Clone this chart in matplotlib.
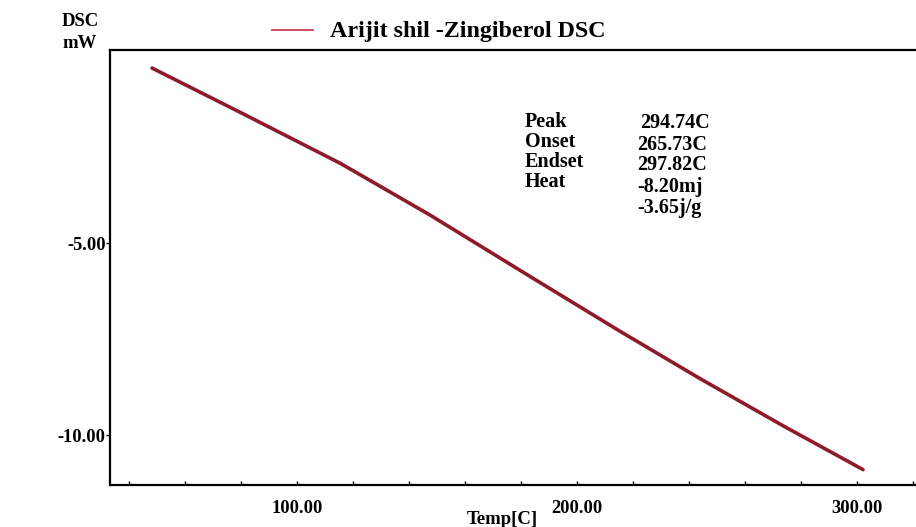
import matplotlib
matplotlib.use("Agg")
import matplotlib.pyplot as plt
from matplotlib.ticker import MultipleLocator, FixedLocator

temp = [48.2, 79.6, 115.4, 147.5, 182.1, 215.4, 243.9, 273.6, 302.1]
dsc = [-0.44, -1.59, -2.92, -4.27, -5.82, -7.30, -8.53, -9.76, -10.90]
xticks = [100, 200, 300]
xticklabels = ["100.00", "200.00", "300.00"]
yticks = [-5, -10]
yticklabels = ["-5.00", "-10.00"]
ann_labels = ["Peak", "Onset", "Endset", "Heat"]
ann_values = ["294.74C", "265.73C", "297.82C", "-8.20mj", "-3.65j/g"]
series_name = "Arijit shil -Zingiberol DSC"

plt.rcParams['font.family'] = ['Liberation Serif', 'DejaVu Serif']
plt.rcParams['font.weight'] = 'bold'

fig = plt.figure(figsize=(9.16, 5.27), dpi=100)
ax = fig.add_axes([110/916, 1-485/527, 1-110/916, (485-50)/527])
line_color = '#8e1b2b'
ax.plot(temp, dsc, color=line_color, lw=2.6, solid_capstyle='round', solid_joinstyle='round')
ax.set_xlim(33.2, 321)
ax.set_ylim(-11.3, 0.03)

for s in ['left', 'top', 'bottom']:
    ax.spines[s].set_linewidth(1.6)
ax.spines['right'].set_visible(False)

ax.xaxis.set_major_locator(FixedLocator(xticks))
ax.set_xticklabels(xticklabels, fontsize=13.3, fontweight='bold')
ax.xaxis.set_minor_locator(MultipleLocator(20))
ax.tick_params(axis='x', which='both', direction='in', length=3, width=1, pad=11)
ax.yaxis.set_major_locator(FixedLocator(yticks))
ax.set_yticklabels(yticklabels, fontsize=13.3, fontweight='bold')
ax.tick_params(axis='y', which='major', direction='out', length=3, width=1, pad=0)

fig.text(62/916, 1-22/527, "DSC", fontsize=13.5, fontweight='bold', va='center', ha='left')
fig.text(62/916, 1-43/527, "mW", fontsize=13.5, fontweight='bold', va='center', ha='left')
fig.text(502/916, 1-520/527, "Temp[C]", fontsize=13.5, fontweight='bold', va='center', ha='center')

# legend
fig.add_artist(plt.Line2D([272/916, 313/916], [1-30/527, 1-30/527], color='#c8404f', lw=1.3))
fig.text(330/916, 1-31/527, series_name, fontsize=17.3, fontweight='bold', va='center', ha='left')

lab_y = [122, 142, 162, 182]
val_y = [123, 145, 165, 187, 208]
for t, y in zip(ann_labels, lab_y):
    fig.text(525/916, 1-y/527, t, fontsize=14.5, fontweight='bold', va='center', ha='left')
for t, y in zip(ann_values, val_y):
    x = 640 if t == ann_values[0] else 637
    fig.text(x/916, 1-y/527, t, fontsize=14.5, fontweight='bold', va='center', ha='left')

fig.savefig("out.png", dpi=100)
